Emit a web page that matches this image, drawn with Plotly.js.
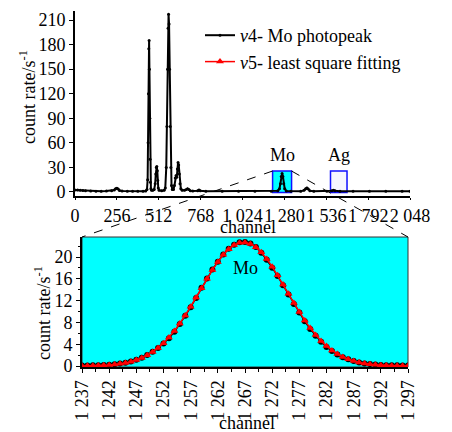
<!DOCTYPE html>
<html>
<head>
<meta charset="utf-8">
<script src="https://cdn.plot.ly/plotly-3.0.1.min.js"></script>
<style>html,body{margin:0;padding:0;background:#fff;}#chart{width:452px;height:432px;}</style>
</head>
<body>
<div id="chart"></div>
<script>
// ---- Top panel: full spectrum (v4) ----
const specChannel = [0,16,32,48,64,96,128,160,192,224,240,248,256,264,272,288,320,352,384,416,432,440,444,447,449,451,453,455,457,459,461,464,468,476,484,490,494,497,500,503,506,509,514,530,545,552,558,562,566,569,572,575,578,582,586,590,595,602,608,613,618,622,626,630,634,638,642,647,655,670,680,688,696,705,720,750,758,766,800,900,1000,1100,1200,1240,1250,1256,1261,1266,1271,1276,1282,1292,1320,1380,1400,1410,1418,1426,1436,1460,1540,1570,1580,1590,1620,1700,1800,1900,2000,2048];
const specRate    = [2.5,2.3,2.0,1.8,1.5,1.2,1.0,1.0,1.1,1.5,2.5,4.0,4.5,3.5,1.8,1.2,1.0,1.0,1.0,1.0,1.2,3,15,60,120,175,185,150,90,40,12,4,2,2,3,10,22,30,31,26,14,5,2,1.5,2,5,30,80,150,200,217,205,150,80,30,8,3,3,8,17,20,18,28,36,33,22,10,4,2,2,3,4,3,1.5,1.2,1.5,2.5,1.5,1.0,1,1,1,1,1.5,4,10,19,22.5,19,10,4,1.2,1,1,2,4,5,3.5,1.5,1,1,1.5,2,1.5,1,1,1,1,1,1];
const topTickVals = [0,256,512,768,1024,1280,1536,1792,2048];
const topTickText = ['0','256','512','768','1 024','1 280','1 536','1 792','2 048'];
const topYTicks   = [0,30,60,90,120,150,180,210];

// ---- Bottom panel: Mo photopeak and fit ----
const channel = [1237,1238,1239,1240,1241,1242,1243,1244,1245,1246,1247,1248,1249,1250,1251,1252,1253,1254,1255,1256,1257,1258,1259,1260,1261,1262,1263,1264,1265,1266,1267,1268,1269,1270,1271,1272,1273,1274,1275,1276,1277,1278,1279,1280,1281,1282,1283,1284,1285,1286,1287,1288,1289,1290,1291,1292,1293,1294,1295,1296,1297];
const v4Rate = [0.10,0.10,0.12,0.15,0.18,0.24,0.32,0.45,0.62,0.85,1.15,1.52,2.02,2.62,3.30,4.12,5.10,6.30,7.70,9.20,10.80,12.50,14.35,16.05,17.70,19.15,20.45,21.50,22.25,22.70,22.75,22.50,21.85,20.80,19.50,18.05,16.50,14.80,13.10,11.40,9.80,8.20,6.80,5.55,4.45,3.50,2.75,2.12,1.62,1.22,0.90,0.66,0.48,0.35,0.26,0.20,0.16,0.13,0.12,0.10,0.10];
const v5Fit  = [0.02,0.04,0.06,0.09,0.13,0.19,0.28,0.40,0.57,0.80,1.10,1.48,1.96,2.57,3.31,4.20,5.24,6.44,7.79,9.28,10.88,12.57,14.29,15.99,17.61,19.10,20.40,21.44,22.19,22.61,22.68,22.40,21.78,20.85,19.65,18.23,16.65,14.97,13.25,11.55,9.91,8.37,6.96,5.70,4.59,3.65,2.85,2.19,1.66,1.24,0.91,0.66,0.47,0.33,0.23,0.15,0.10,0.07,0.04,0.03,0.02];
const botTickVals = [1237,1242,1247,1252,1257,1262,1267,1272,1277,1282,1287,1292,1297];
const botTickText = ['1 237','1 242','1 247','1 252','1 257','1 262','1 267','1 272','1 277','1 282','1 287','1 292','1 297'];
const botYTicks   = [0,4,8,12,16,20];

// highlighted regions in top panel
const moBox = {x0:1208, x1:1324, y0:-0.5, y1:25.6};
const agBox = {x0:1562, x1:1663, y0:-0.5, y1:25.6};

const W = 452, H = 432;
const topXDom = [75/W, 410/W], topYDom = [1-196/H, 1-11/H];
const botXDom = [82/W, 408/W], botYDom = [1-367/H, 1-237/H];
const topXRange = [0,2048], topYRange = [-4.9,221];
const botXRange = [1237,1297], botYRange = [-0.18,23.67];

function toPaper(v, range, dom){ return dom[0] + (v-range[0])/(range[1]-range[0])*(dom[1]-dom[0]); }

const FONT = 'Liberation Serif, Times New Roman, serif';
const FS = 18;

const traces = [
  {x: specChannel, y: specRate, xaxis:'x', yaxis:'y', type:'scatter', mode:'lines+markers',
   name:'<i>v</i>4- Mo photopeak', line:{color:'#000', width:2}, marker:{symbol:'circle', size:3, color:'#000'}},
  {x: channel, y: v4Rate, xaxis:'x2', yaxis:'y2', type:'scatter', mode:'lines+markers', showlegend:false,
   line:{color:'#000', width:1.5}, marker:{symbol:'circle', size:6, color:'#000'}},
  {x: channel, y: v5Fit, xaxis:'x2', yaxis:'y2', type:'scatter', mode:'lines+markers',
   name:'<i>v</i>5- least square fitting', line:{color:'#ff0000', width:1.5}, marker:{symbol:'triangle-up', size:7, color:'#ff0000'}}
];

const mx0 = toPaper(moBox.x0, topXRange, topXDom), mx1 = toPaper(moBox.x1, topXRange, topXDom);
const myTop = toPaper(moBox.y1, topYRange, topYDom);

const shapes = [
  {type:'rect', xref:'x2 domain', yref:'y2 domain', x0:0, x1:1, y0:0, y1:1, fillcolor:'#00ffff', line:{color:'#333', width:1}, layer:'below'},
  {type:'rect', xref:'x', yref:'y', x0:moBox.x0, x1:moBox.x1, y0:moBox.y0, y1:moBox.y1, fillcolor:'#00ffff', line:{color:'#1010ff', width:1.5}, layer:'below'},
  {type:'rect', xref:'x', yref:'y', x0:agBox.x0, x1:agBox.x1, y0:agBox.y0, y1:agBox.y1, fillcolor:'rgba(240,240,255,0.6)', line:{color:'#1010ff', width:1.5}, layer:'below'},
  {type:'line', xref:'paper', yref:'paper', x0:mx0, y0:myTop, x1:botXDom[0], y1:botYDom[1], line:{color:'#000', width:1, dash:'dash'}},
  {type:'line', xref:'paper', yref:'paper', x0:mx1, y0:myTop, x1:botXDom[1], y1:botYDom[1], line:{color:'#000', width:1, dash:'dash'}}
];

function ann(text, x, y, xref, yref, extra){
  return Object.assign({text:text, x:x, y:y, xref:xref, yref:yref, xanchor:'center', yanchor:'middle', showarrow:false,
    font:{family:FONT, size:FS, color:'#000'}}, extra||{});
}
const annotations = [
  ann('Mo', 1267, 45, 'x', 'y'),
  ann('Ag', 1612, 45, 'x', 'y'),
  ann('Mo', 1267, 18, 'x2', 'y2'),
  ann('count rate/s<sup>-1</sup>', 28/W, 1-97/H, 'paper', 'paper', {textangle:-90}),
  ann('channel', 248/W, 1-227/H, 'paper', 'paper'),
  ann('count rate/s<sup>-1</sup>', 42/W, 1-313/H, 'paper', 'paper', {textangle:-90}),
  ann('channel', 247/W, 1-423/H, 'paper', 'paper')
];

const axisCommon = {showgrid:false, zeroline:false, showline:true, linecolor:'#000', linewidth:2,
  ticks:'outside', ticklen:4, tickcolor:'#000', tickwidth:1, tickfont:{family:FONT, size:FS, color:'#000'}, fixedrange:true};

const layout = {
  width:W, height:H, margin:{l:0, r:0, t:0, b:0},
  paper_bgcolor:'#fff', plot_bgcolor:'#fff',
  font:{family:FONT, size:FS, color:'#000'},
  showlegend:true,
  legend:{x:200/W, y:1-17/H, xanchor:'left', yanchor:'top', bgcolor:'rgba(0,0,0,0)', font:{family:FONT, size:FS, color:'#000'}, tracegroupgap:0},
  xaxis: Object.assign({}, axisCommon, {domain:topXDom, range:topXRange, anchor:'y', tickmode:'array', tickvals:topTickVals, ticktext:topTickText, tickangle:0, ticklen:2}),
  yaxis: Object.assign({}, axisCommon, {domain:topYDom, range:topYRange, anchor:'x', tickmode:'array', tickvals:topYTicks}),
  xaxis2: Object.assign({}, axisCommon, {domain:botXDom, range:botXRange, anchor:'y2', tickmode:'array', tickvals:botTickVals, ticktext:botTickText, tickangle:-90,
    minor:{tickmode:'linear', tick0:1237, dtick:2.5, ticks:'outside', ticklen:3, tickcolor:'#000'}}),
  yaxis2: Object.assign({}, axisCommon, {domain:botYDom, range:botYRange, anchor:'x2', tickmode:'array', tickvals:botYTicks,
    minor:{tickmode:'linear', tick0:0, dtick:2, ticks:'outside', ticklen:2, tickcolor:'#000'}}),
  shapes: shapes,
  annotations: annotations
};

Plotly.newPlot('chart', traces, layout, {displayModeBar:false, staticPlot:true});
</script>
</body>
</html>
